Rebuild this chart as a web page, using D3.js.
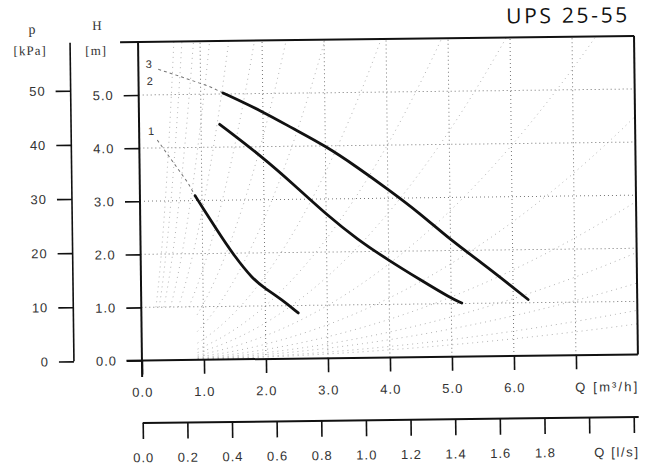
<!DOCTYPE html>
<html><head><meta charset="utf-8">
<script src="https://cdn.jsdelivr.net/npm/d3@7"></script>
<style>body{margin:0;background:#fff}svg{display:block}</style>
</head><body>
<svg id="c" width="651" height="468"></svg>
<script>
// ---- data ----
const title = "UPS 25-55";
const hTicks = [0, 1, 2, 3, 4, 5];
const hTickLabels = ["0.0", "1.0", "2.0", "3.0", "4.0", "5.0"];
const pTicks = [0, 10, 20, 30, 40, 50];
const pTickLabels = ["0", "10", "20", "30", "40", "50"];
const qTicks = [0, 1, 2, 3, 4, 5, 6, 7];
const qTickLabels = ["0.0", "1.0", "2.0", "3.0", "4.0", "5.0", "6.0", ""];
const lsTicks = [0, 0.2, 0.4, 0.6, 0.8, 1.0, 1.2, 1.4, 1.6, 1.8, 2.0, 2.2];
const lsTickLabels = ["0.0", "0.2", "0.4", "0.6", "0.8", "1.0", "1.2", "1.4", "1.6", "1.8", "", ""];
const gridQ = [1, 2, 3, 4, 5, 6, 7];
const gridH = [1, 2, 3, 4, 5];
const curveNames = ["1", "2", "3"];
// speed 1
const curve1Q = [0.89, 1.0, 1.23, 1.5, 1.81, 2.0, 2.25, 2.53];
const curve1H = [3.09, 2.88, 2.45, 1.96, 1.50, 1.33, 1.13, 0.86];
// speed 2
const curve2Q = [1.30, 2.0, 2.5, 3.0, 3.5, 4.0, 4.5, 5.0, 5.17];
const curve2H = [4.43, 3.79, 3.26, 2.71, 2.23, 1.83, 1.46, 1.10, 1.01];
// speed 3
const curve3Q = [1.36, 2.0, 2.5, 3.0, 3.5, 4.0, 4.5, 5.0, 5.5, 6.0, 6.24];
const curve3H = [5.02, 4.66, 4.32, 4.00, 3.60, 3.17, 2.72, 2.20, 1.76, 1.29, 1.06];
// dashed leaders from the speed labels
const leader3Q = [0.32, 0.70, 1.15, 1.36];
const leader3H = [5.48, 5.33, 5.14, 5.02];
const leader1Q = [0.29, 0.78, 0.89];
const leader1H = [4.15, 3.33, 3.09];
// background system curves H = k * Q^2
const systemK = [0.009, 0.013, 0.021, 0.03, 0.045, 0.07, 0.11, 0.17, 0.25, 0.39, 0.66, 1.05, 1.7, 2.8, 4.5, 7.5, 12, 18];

// ---- drawing ----
const svg = d3.select("#c");
svg.append("rect").attr("width", 651).attr("height", 468).attr("fill", "#fff");
const g = svg.append("g").attr("transform", "rotate(-0.7,388,200)");

const x = d3.scaleLinear().domain([0, 8]).range([140, 636]);
const y = d3.scaleLinear().domain([0, 6]).range([357.5, 38.9]);
const yP = d3.scaleLinear().domain([0, 6 * 9.81]).range([357.5, 38.9]);
const xL = d3.scaleLinear().domain([0, 8 / 3.6]).range([140, 636]);

const ink = "#111";
const txt = "#333";
const numFont = "'Liberation Sans', Arial, sans-serif";

// grid
g.append("g").selectAll("line").data(gridH).join("line")
  .attr("x1", x(0)).attr("x2", x(8)).attr("y1", d => y(d)).attr("y2", d => y(d))
  .attr("stroke", "#777").attr("stroke-width", 1).attr("stroke-dasharray", "1,3");
g.append("g").selectAll("line").data(gridQ).join("line")
  .attr("x1", d => x(d)).attr("x2", d => x(d)).attr("y1", y(0)).attr("y2", y(6))
  .attr("stroke", "#777").attr("stroke-width", 1).attr("stroke-dasharray", "1,3");

// system curves
const line = d3.line().x(d => x(d[0])).y(d => y(d[1]));
g.append("g").selectAll("path").data(systemK).join("path")
  .attr("d", k => {
    const q0 = Math.min(0.9, 1 / Math.sqrt(k));
    const q1 = Math.min(8, Math.sqrt(6 / k));
    return line(d3.range(0, 41).map(i => { const q = q0 + (q1 - q0) * i / 40; return [q, k * q * q]; }));
  })
  .attr("fill", "none").attr("stroke", "#aaa").attr("stroke-width", 0.9).attr("stroke-dasharray", "1,4");

// leaders
const zip = (a, b) => a.map((v, i) => [v, b[i]]);
[[leader3Q, leader3H], [leader1Q, leader1H]].forEach(([qa, ha]) => {
  g.append("path").attr("d", line(zip(qa, ha)))
    .attr("fill", "none").attr("stroke", "#777").attr("stroke-width", 1).attr("stroke-dasharray", "3,3");
});

// pump curves
const smooth = d3.line().curve(d3.curveBasis).x(d => x(d[0])).y(d => y(d[1]));
[[curve1Q, curve1H], [curve2Q, curve2H], [curve3Q, curve3H]].forEach(([qa, ha]) => {
  g.append("path").attr("d", smooth(zip(qa, ha)))
    .attr("fill", "none").attr("stroke", ink).attr("stroke-width", 2.8)
    .attr("stroke-linecap", "round").attr("stroke-linejoin", "round");
});

// curve labels
const labelPos = [[0.19, 4.32], [0.18, 5.26], [0.17, 5.58]];
g.append("g").selectAll("text").data(curveNames).join("text")
  .attr("x", (d, i) => x(labelPos[i][0])).attr("y", (d, i) => y(labelPos[i][1]))
  .attr("dy", "0.36em").attr("text-anchor", "middle")
  .attr("font-family", numFont).attr("font-size", 11).attr("fill", txt).text(d => d);

// frame lines
const frame = g.append("g").attr("stroke", ink).attr("fill", "none");
frame.append("line").attr("x1", x(-0.29)).attr("x2", x(8)).attr("y1", y(6)).attr("y2", y(6)).attr("stroke-width", 2);
frame.append("line").attr("x1", x(8)).attr("x2", x(8)).attr("y1", y(6)).attr("y2", y(0)).attr("stroke-width", 2);
frame.append("line").attr("x1", x(0)).attr("x2", x(0)).attr("y1", y(6)).attr("y2", y(-0.31)).attr("stroke-width", 2);
frame.append("line").attr("x1", x(-0.25)).attr("x2", x(8)).attr("y1", y(0)).attr("y2", y(0)).attr("stroke-width", 2);
frame.append("line").attr("x1", 72).attr("x2", 72).attr("y1", yP(6 * 9.81)).attr("y2", yP(0)).attr("stroke-width", 1.6);
frame.append("line").attr("x1", xL(0)).attr("x2", xL(8 / 3.6)).attr("y1", 420).attr("y2", 420).attr("stroke-width", 2);

function styleAxis(sel) {
  sel.select(".domain").remove();
  sel.selectAll(".tick line").attr("stroke", ink).attr("stroke-width", 1.6);
  sel.selectAll(".tick text").attr("fill", txt).attr("font-family", numFont)
    .attr("font-size", 13).attr("letter-spacing", "1px");
}

// H axis
g.append("g").attr("transform", `translate(${x(0)},0)`)
  .call(d3.axisLeft(y).tickValues(hTicks).tickFormat((d, i) => hTickLabels[i]).tickSize(15).tickPadding(10))
  .call(styleAxis);
// p axis
g.append("g").attr("transform", "translate(72,0)")
  .call(d3.axisLeft(yP).tickValues(pTicks).tickFormat((d, i) => pTickLabels[i]).tickSize(15).tickPadding(10))
  .call(styleAxis);
// Q m3/h axis
g.append("g").attr("transform", `translate(0,${y(0)})`)
  .call(d3.axisBottom(x).tickValues(qTicks).tickFormat((d, i) => qTickLabels[i]).tickSize(14).tickPadding(13))
  .call(styleAxis);
// Q l/s axis
g.append("g").attr("transform", "translate(0,420)")
  .call(d3.axisBottom(xL).tickValues(lsTicks).tickFormat((d, i) => lsTickLabels[i]).tickSize(16).tickPadding(14))
  .call(styleAxis);

// axis titles
const serif = "'Liberation Serif', 'Times New Roman', serif";
const addText = (s, xx, yy, opts = {}) => g.append("text").attr("x", xx).attr("y", yy)
  .attr("text-anchor", opts.anchor || "middle").attr("font-family", opts.font || serif)
  .attr("font-size", opts.size || 13).attr("fill", opts.fill || txt)
  .attr("letter-spacing", opts.ls || "0px").text(s);

addText("p", 34, 29.7, {size: 14});
addText("[kPa]", 32, 50.7, {size: 13, ls: "1px"});
addText("H", 99, 26.5, {size: 13});
addText("[m]", 98, 51.5, {size: 13, ls: "1px"});
addText("Q [m³/h]", 573, 394, {anchor: "start", font: numFont, size: 13})
  .attr("textLength", 62).attr("lengthAdjust", "spacing");
addText("Q [l/s]", 591, 459.5, {anchor: "start", font: numFont, size: 13})
  .attr("textLength", 44).attr("lengthAdjust", "spacing");

// title
addText(title, 569, 25, {font: "'Open Sans', sans-serif", size: 21, fill: "#111"})
  .attr("textLength", 121).attr("lengthAdjust", "spacing");
</script>
</body></html>
